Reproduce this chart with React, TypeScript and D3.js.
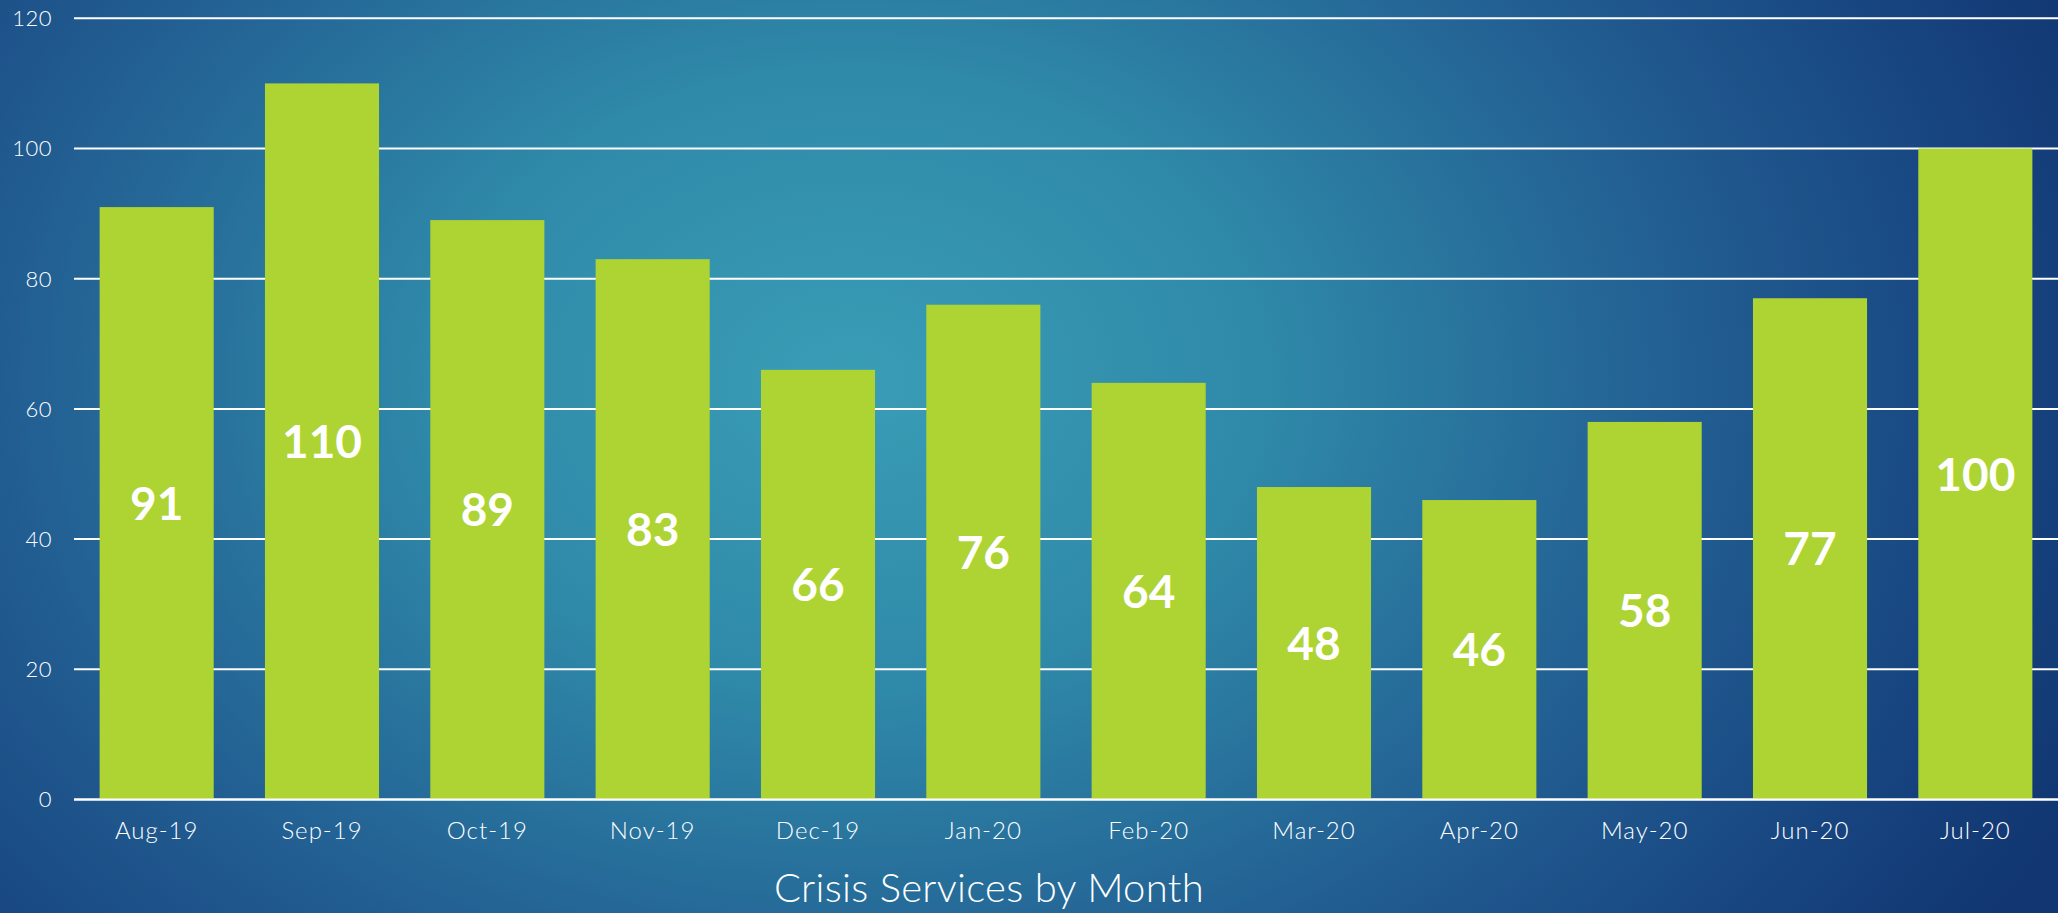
import React from "react";
import * as d3 from "d3";

const months = ["Aug-19","Sep-19","Oct-19","Nov-19","Dec-19","Jan-20","Feb-20","Mar-20","Apr-20","May-20","Jun-20","Jul-20"];
const services = [91,110,89,83,66,76,64,48,46,58,77,100];
const yTicks = [0,20,40,60,80,100,120];
const title = "Crisis Services by Month";

const W = 2058, H = 913;
const FONT = "Lato, 'Open Sans', sans-serif";

export default function App() {
  const x = d3.scaleBand<string>().domain(months).range([74, 2058]).paddingInner(0.31).paddingOuter(0.155);
  const y = d3.scaleLinear().domain([0, 120]).range([799.5, 18.3]);
  return (
    <svg width={W} height={H} style={{ position: "absolute", left: 0, top: 0, display: "block" }}>
      <defs>
        <radialGradient id="bg" gradientUnits="userSpaceOnUse" cx={850} cy={380} r={1350}
          gradientTransform="translate(850 380) scale(1 0.75) translate(-850 -380)">
          <stop offset="0" stopColor="#3a9db6" />
          <stop offset="0.3" stopColor="#2f8aa9" />
          <stop offset="0.62" stopColor="#225e92" />
          <stop offset="0.85" stopColor="#17447f" />
          <stop offset="1" stopColor="#113671" />
        </radialGradient>
      </defs>
      <rect x={0} y={0} width={W} height={H} fill="url(#bg)" />
      {yTicks.map(t => (
        <g key={t}>
          <line x1={74} x2={W} y1={y(t)} y2={y(t)} stroke="#ffffff" strokeWidth={2} />
          <text x={52} y={y(t)} dy="0.36em" textAnchor="end" fill="#ffffff" fontFamily={FONT} fontWeight={300} fontSize={22} letterSpacing={0.5}>{t}</text>
        </g>
      ))}
      {months.map((m, i) => {
        const v = services[i];
        const bx = x(m)!;
        const bw = x.bandwidth();
        return (
          <g key={m}>
            <rect x={bx} y={y(v)} width={bw} height={y(0) - y(v)} fill="#add433" />
            <text x={bx + bw / 2} y={(y(v) + y(0)) / 2} dy="0.36em" textAnchor="middle" fill="#ffffff" fontFamily={FONT} fontWeight={700} fontSize={46}>{v}</text>
            <text x={bx + bw / 2} y={839} textAnchor="middle" fill="#ffffff" fontFamily={FONT} fontWeight={300} fontSize={24} letterSpacing={1}>{m}</text>
          </g>
        );
      })}
      <line x1={74} x2={W} y1={y(0)} y2={y(0)} stroke="#ffffff" strokeWidth={2} />
      <text x={989} y={902} textAnchor="middle" fill="#ffffff" fontFamily={FONT} fontWeight={300} fontSize={40} letterSpacing={0.3}>{title}</text>
    </svg>
  );
}
